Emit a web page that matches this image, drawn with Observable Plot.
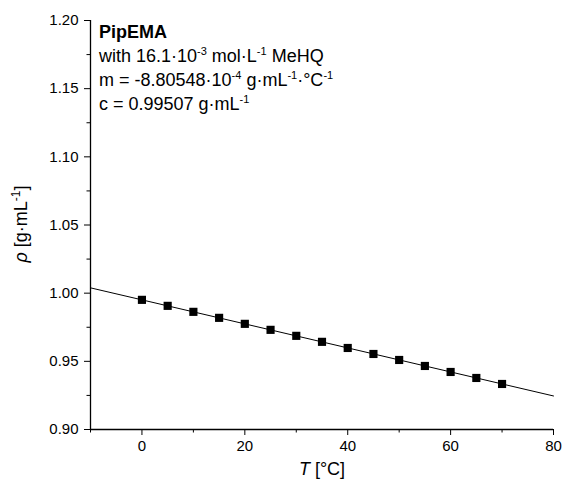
<!DOCTYPE html>
<html><head><meta charset="utf-8">
<script src="https://cdn.jsdelivr.net/npm/d3@7"></script>
<script src="https://cdn.jsdelivr.net/npm/@observablehq/plot@0.6"></script>
<style>
body{margin:0;background:#fff;}
#chart svg{font-family:"Liberation Sans",Arial,sans-serif;}
</style>
</head><body><div id="chart"></div>
<script>
const temps = [0,5,10,15,20,25,30,35,40,45,50,55,60,65,70];
const densities = [0.9951,0.9907,0.9863,0.9819,0.9775,0.9731,0.9687,0.9643,0.9598,0.9554,0.9510,0.9466,0.9422,0.9378,0.9334];
const fitT = [-10, 80];
const fitRho = [1.0039, 0.9246];
const xMajor = [0,20,40,60,80];
const xMinor = [-10,10,30,50,70];
const yMajor = [0.90,0.95,1.00,1.05,1.10,1.15,1.20];
const yMinor = [0.925,0.975,1.025,1.075,1.125,1.175];

const pts = temps.map((t,i)=>({t, r: densities[i]}));
const fit = fitT.map((t,i)=>({t, r: fitRho[i]}));

const plot = Plot.plot({
  width: 563, height: 486,
  marginLeft: 90, marginRight: 10, marginTop: 20, marginBottom: 57,
  style: {fontFamily: "Liberation Sans, Arial, sans-serif", fontSize: "15px", color: "#000", background: "#fff"},
  x: {domain: [-10, 80]},
  y: {domain: [0.9, 1.2]},
  marks: [
    Plot.axisX({ticks: xMajor, tickSize: 6, tickPadding: 5, label: null, fontSize: 15}),
    Plot.axisX({ticks: xMinor, tickSize: 3.5, text: null, label: null}),
    Plot.axisY({ticks: yMajor, tickSize: 6, tickPadding: 6, tickFormat: d3.format(".2f"), label: null, fontSize: 15}),
    Plot.axisY({ticks: yMinor, tickSize: 3.5, text: null, label: null}),
    Plot.ruleX([-10], {stroke: "#000", strokeWidth: 1.3}),
    Plot.ruleY([0.9], {stroke: "#000", strokeWidth: 1.3}),
    Plot.line(fit, {x: "t", y: "r", stroke: "#000", strokeWidth: 1}),
    Plot.dot(pts, {x: "t", y: "r", symbol: "square", r: 4.6, fill: "#000", stroke: "none"})
  ]
});
document.getElementById("chart").appendChild(plot);

const svg = d3.select(plot);
const ff = "Liberation Sans, Arial, sans-serif";
const SUP = 11, RISE = 7;
function addSup(el, s) {
  el.append("tspan").attr("dy", -RISE).attr("font-size", SUP).text(s);
}
function addBase(el, s) {
  el.append("tspan").attr("dy", RISE).text(s);
}
// annotation block
const ann = svg.append("g").attr("font-family", ff).attr("font-size", 18).attr("fill", "#000").attr("text-anchor", "start");
ann.append("text").attr("x", 99).attr("y", 38).attr("font-weight", "bold").text("PipEMA");
let t2 = ann.append("text").attr("x", 99).attr("y", 62);
t2.append("tspan").text("with 16.1·10");
addSup(t2, "-3"); addBase(t2, " mol·L");
addSup(t2, "-1"); addBase(t2, " MeHQ");
let t3 = ann.append("text").attr("x", 99).attr("y", 86);
t3.append("tspan").text("m = -8.80548·10");
addSup(t3, "-4"); addBase(t3, " g·mL");
addSup(t3, "-1"); addBase(t3, "·°C");
addSup(t3, "-1");
let t4 = ann.append("text").attr("x", 99).attr("y", 110);
t4.append("tspan").text("c = 0.99507 g·mL");
addSup(t4, "-1");

// x label
const xl = svg.append("text").attr("x", 322).attr("y", 475).attr("text-anchor", "middle")
  .attr("font-family", ff).attr("font-size", 18).attr("fill", "#000");
xl.append("tspan").attr("font-style", "italic").text("T");
xl.append("tspan").text(" [°C]");

// y label
const yl = svg.append("text").attr("transform", "translate(27,224) rotate(-90)").attr("text-anchor", "middle")
  .attr("font-family", ff).attr("font-size", 18).attr("fill", "#000");
yl.append("tspan").attr("font-style", "italic").text("ρ");
yl.append("tspan").text(" [g·mL");
yl.append("tspan").attr("dy", -7).attr("font-size", 12).text("-1");
yl.append("tspan").attr("dy", 7).text("]");
</script></body></html>
